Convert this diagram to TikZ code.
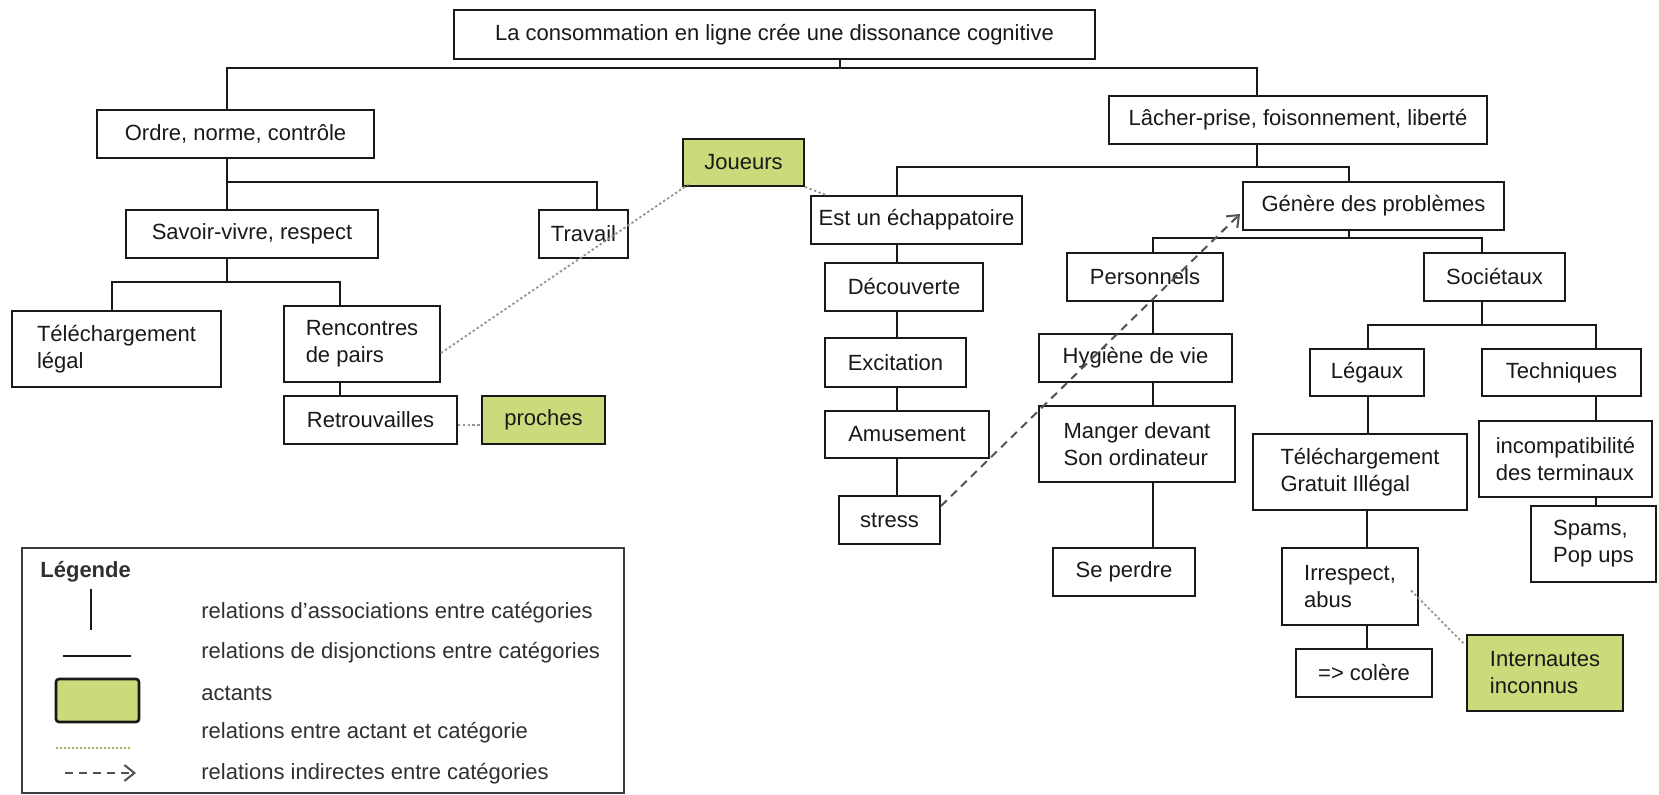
\documentclass[tikz,border=0pt]{standalone}
\usepackage{fontspec}
\setmainfont{Liberation Sans}
\usetikzlibrary{arrows.meta,calc}
\definecolor{actant}{RGB}{201,219,122}
\definecolor{ink}{RGB}{25,25,25}
\definecolor{relgray}{RGB}{150,150,140}
\definecolor{legdot}{RGB}{175,175,90}
\newcommand{\mybox}[7]{\node[box,#6,minimum width={(#4-#2)*0.5pt},minimum height={(#5-#3)*0.5pt}] (#1) at ({(#2+#4)/2},{(#3+#5)/2}) {#7};}
\begin{document}
\begin{tikzpicture}[x=0.5pt,y=-0.5pt,
  box/.style={draw=ink, line width=1pt, inner sep=0pt, text=ink, font=\fontsize{11}{13.5}\selectfont},
  actbox/.style={fill=actant},
  tree/.style={draw=ink, line width=1pt},
  actrel/.style={draw=relgray, line width=0.9pt, dash pattern=on 1.2pt off 1.2pt},
  indirect/.style={draw=ink!75, line width=1pt, dash pattern=on 4pt off 3pt, -{Straight Barb[length=5pt,width=8pt]}},
  legtext/.style={anchor=west, inner sep=0pt, text=ink!90, font=\fontsize{11}{13.5}\selectfont}
]
\fill[white] (0,0) rectangle (1659,795);
\useasboundingbox (0,0) rectangle (1659,795);

% boxes
\mybox{top}{454}{10}{1095}{59}{}{La consommation en ligne crée une dissonance cognitive}
\mybox{ordre}{97}{110}{374}{158}{}{Ordre, norme, contrôle}
\mybox{lacher}{1109}{96}{1487}{144}{}{Lâcher-prise, foisonnement, liberté}
\mybox{savoir}{126}{210}{378}{258}{}{Savoir-vivre, respect}
\mybox{travail}{539}{210}{628}{258}{}{Travail}
\mybox{joueurs}{683}{139}{804}{186}{actbox}{Joueurs}
\mybox{est}{811}{196}{1022}{244}{}{Est un échappatoire}
\mybox{generes}{1243}{182}{1504}{230}{}{Génère des problèmes}
\mybox{telelegal}{12}{311}{221}{387}{align=left}{Téléchargement\\légal}
\mybox{rencontres}{284}{306}{440}{382}{align=left}{Rencontres\\de pairs}
\mybox{retrouv}{284}{396}{457}{444}{}{Retrouvailles}
\mybox{proches}{482}{396}{605}{444}{actbox}{proches}
\mybox{decouverte}{825}{263}{983}{311}{}{Découverte}
\mybox{excitation}{825}{338}{966}{387}{}{Excitation}
\mybox{amusement}{825}{411}{989}{458}{}{Amusement}
\mybox{stress}{839}{496}{940}{544}{}{stress}
\mybox{personnels}{1067}{253}{1223}{301}{}{Personnels}
\mybox{hygiene}{1039}{334}{1232}{382}{}{Hygiène de vie}
\mybox{manger}{1039}{406}{1235}{482}{align=left}{Manger devant\\Son ordinateur}
\mybox{seperdre}{1053}{548}{1195}{596}{}{Se perdre}
\mybox{societaux}{1424}{253}{1565}{301}{}{Sociétaux}
\mybox{legaux}{1310}{349}{1424}{396}{}{Légaux}
\mybox{techniques}{1482}{349}{1641}{396}{}{Techniques}
\mybox{telegratuit}{1253}{434}{1467}{510}{align=left}{Téléchargement\\Gratuit Illégal}
\mybox{incompat}{1479}{421}{1652}{497}{align=left}{incompatibilité\\des terminaux}
\mybox{spams}{1531}{506}{1656}{582}{align=left}{Spams,\\Pop ups}
\mybox{irrespect}{1282}{548}{1418}{625}{align=left}{Irrespect,\\abus}
\mybox{colere}{1296}{649}{1432}{697}{}{=> colère}
\mybox{internautes}{1467}{635}{1623}{711}{actbox,align=left}{Internautes\\inconnus}

% tree connectors
\draw[tree] (top.south -| 840,0) |- (227,68) -- (ordre.north -| 227,0);
\draw[tree] (840,68) -| (lacher.north -| 1257,0);
\draw[tree] (ordre.south -| 227,0) -- (savoir.north -| 227,0);
\draw[tree] (227,182) -| (travail.north -| 597,0);
\draw[tree] (savoir.south -| 227,0) |- (112,282) -- (telelegal.north -| 112,0);
\draw[tree] (227,282) -| (rencontres.north -| 340,0);
\draw[tree] (rencontres.south -| 340,0) -- (retrouv.north -| 340,0);
\draw[tree] (lacher.south -| 1257,0) |- (897,167) -- (est.north -| 897,0);
\draw[tree] (1257,167) -| (generes.north -| 1349,0);
\draw[tree] (est.south -| 897,0) -- (decouverte.north -| 897,0);
\draw[tree] (decouverte.south -| 897,0) -- (excitation.north -| 897,0);
\draw[tree] (excitation.south -| 897,0) -- (amusement.north -| 897,0);
\draw[tree] (amusement.south -| 897,0) -- (stress.north -| 897,0);
\draw[tree] (generes.south -| 1349,0) |- (1153,238) -- (personnels.north -| 1153,0);
\draw[tree] (1349,238) -| (societaux.north -| 1482,0);
\draw[tree] (personnels.south -| 1153,0) -- (hygiene.north -| 1153,0);
\draw[tree] (hygiene.south -| 1153,0) -- (manger.north -| 1153,0);
\draw[tree] (manger.south -| 1153,0) -- (seperdre.north -| 1153,0);
\draw[tree] (societaux.south -| 1482,0) |- (1368,325) -- (legaux.north -| 1368,0);
\draw[tree] (1482,325) -| (techniques.north -| 1596,0);
\draw[tree] (legaux.south -| 1368,0) -- (telegratuit.north -| 1368,0);
\draw[tree] (telegratuit.south -| 1367,0) -- (irrespect.north -| 1367,0);
\draw[tree] (irrespect.south -| 1367,0) -- (colere.north -| 1367,0);
\draw[tree] (techniques.south -| 1596,0) -- (incompat.north -| 1596,0);
\draw[tree] (incompat.south -| 1596,0) -- (spams.north -| 1596,0);

% actant relations
\draw[actrel] ($(rencontres.east)+(0,9)$) -- ($(joueurs.south west)+(7,-3)$);
\draw[actrel] (joueurs.south east) -- ($(est.north west)+(16,0)$);
\draw[actrel] ($(retrouv.east)+(0,5)$) -- ($(proches.west)+(0,5)$);
\draw[actrel] ($(irrespect.east)+(-8,4)$) -- ($(internautes.north west)+(-2,10)$);

% indirect relation
\draw[indirect] ($(stress.north east)+(0,11)$) -- ($(generes.south west)+(-2,-17)$);

% legend
\node[draw=ink!85, line width=0.8pt, inner sep=0pt, minimum width={602*0.5pt}, minimum height={245*0.5pt}] (legend) at (323,670.5) {};
\node[legtext, font=\fontsize{11}{13.5}\selectfont\bfseries] (legtitle) at (40,572) {Légende};
\draw[draw=ink, line width=1pt] (91,589) -- (91,630);
\node[legtext] (l1) at (201,613) {relations d'associations entre catégories};
\draw[draw=ink, line width=1pt] (63,656) -- (131,656);
\node[legtext] (l2) at (201,653) {relations de disjonctions entre catégories};
\draw[draw=ink, line width=1.3pt, fill=actant, rounded corners=1.5pt] (56,679) rectangle (139,722);
\node[legtext] (l3) at (201,693) {actants};
\draw[draw=legdot, line width=0.8pt, dash pattern=on 0.8pt off 1.2pt] (56,748) -- (131,748);
\node[legtext] (l4) at (201,733) {relations entre actant et catégorie};
\draw[indirect] (65,773) -- (136,773);
\node[legtext] (l5) at (201,774) {relations indirectes entre catégories};
\end{tikzpicture}
\end{document}
